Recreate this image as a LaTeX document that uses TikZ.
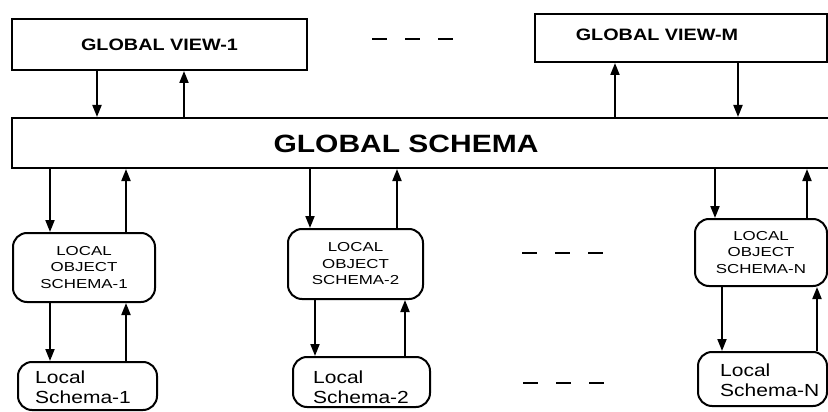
\documentclass[tikz,border=0pt]{standalone}
\usepackage{fontspec}
\setmainfont{Liberation Sans}
\newfontfamily\widefont[FakeStretch=1.2]{Liberation Sans}
\newfontfamily\widerfont[FakeStretch=1.3]{Liberation Sans}
\usetikzlibrary{arrows.meta}

\begin{document}
\begin{tikzpicture}[x=1pt,y=-1pt,
  frame/.style={draw, line width=2pt, rectangle, inner sep=0pt},
  roundframe/.style={frame, rounded corners=14pt},
  flow/.style={line width=1.9pt, -{Triangle[length=12pt,width=9pt]}},
  ellipsis/.style={line width=2pt, dash pattern=on 15pt off 18pt},
  viewtext/.style={font=\widefont\bfseries\fontsize{16.5}{20}\selectfont},
  schematext/.style={font=\widefont\bfseries\fontsize{25}{30}\selectfont},
  objtext/.style={font=\widerfont\fontsize{13}{16.5}\selectfont, align=center},
  localtext/.style={font=\widefont\fontsize{17.5}{20}\selectfont, align=left, anchor=west, inner sep=0pt}
]
\useasboundingbox (0,0) rectangle (828,412);
\fill[white] (0,0) rectangle (828,412);
\clip (0,0) rectangle (828,412);

% global views
\node[frame, minimum width=295pt, minimum height=51pt, viewtext] (gv1) at (159.5,44.5) {GLOBAL VIEW-1};
\node[frame, minimum width=292pt, minimum height=48pt] (gvm) at (681,38) {};
\node[viewtext] (gvmtext) at (657,35) {GLOBAL VIEW-M};

% global schema (runs off the right edge)
\node[frame, minimum width=820pt, minimum height=50pt] (gs) at (422,143) {};
\node[schematext] (gstext) at (406,144) {GLOBAL SCHEMA};

% local object schemas
\node[roundframe, minimum width=142pt, minimum height=69pt, objtext] (los1) at (84,267.5) {LOCAL\\OBJECT\\SCHEMA-1};
\node[roundframe, minimum width=135pt, minimum height=70pt, objtext] (los2) at (355.5,264) {LOCAL\\OBJECT\\SCHEMA-2};
\node[roundframe, minimum width=132pt, minimum height=67pt, objtext] (losn) at (761,252.5) {LOCAL\\OBJECT\\SCHEMA-N};

% local schemas
\node[roundframe, minimum width=139pt, minimum height=48pt] (ls1) at (87.5,386) {};
\node[roundframe, minimum width=137pt, minimum height=50pt] (ls2) at (361.5,382) {};
\node[roundframe, minimum width=129pt, minimum height=54pt] (lsn) at (762.5,379) {};
\node[localtext] (ls1text) at (35,387) {Local\\Schema-1};
\node[localtext] (ls2text) at (313,387) {Local\\Schema-2};
\node[localtext] (lsntext) at (720,380) {Local\\Schema-N};

% ellipses between the repeated parts
\coordinate (dta) at (372,39);  \coordinate (dtb) at (453,39);
\coordinate (dma) at (522,253); \coordinate (dmb) at (603,253);
\coordinate (dba) at (523,383); \coordinate (dbb) at (604,383);
\draw[ellipsis] (dta) -- (dtb);
\draw[ellipsis] (dma) -- (dmb);
\draw[ellipsis] (dba) -- (dbb);

% views <-> global schema
\draw[flow] (gv1.south -| 97,0) -- (gs.north -| 97,0);
\draw[flow] (gs.north -| 184,0) -- (gv1.south -| 184,0);
\draw[flow] (gs.north -| 615,0) -- (gvm.south -| 615,0);
\draw[flow] (gvm.south -| 738,0) -- (gs.north -| 738,0);

% global schema <-> local object schemas
\draw[flow] (gs.south -| 50,0) -- (los1.north -| 50,0);
\draw[flow] (los1.north -| 126,0) -- (gs.south -| 126,0);
\draw[flow] (gs.south -| 310,0) -- (los2.north -| 310,0);
\draw[flow] (los2.north -| 397,0) -- (gs.south -| 397,0);
\draw[flow] (gs.south -| 715,0) -- (losn.north -| 715,0);
\draw[flow] (losn.north -| 807,0) -- (gs.south -| 807,0);

% local object schemas <-> local schemas
\draw[flow] (los1.south -| 50,0) -- (ls1.north -| 50,0);
\draw[flow] (ls1.north -| 126,0) -- (los1.south -| 126,0);
\draw[flow] (los2.south -| 315,0) -- (ls2.north -| 315,0);
\draw[flow] (ls2.north -| 405,0) -- (los2.south -| 405,0);
\draw[flow] (losn.south -| 722,0) -- (lsn.north -| 722,0);
\draw[flow] (lsn.north -| 817,0) -- (losn.south -| 817,0);
\end{tikzpicture}
\end{document}
